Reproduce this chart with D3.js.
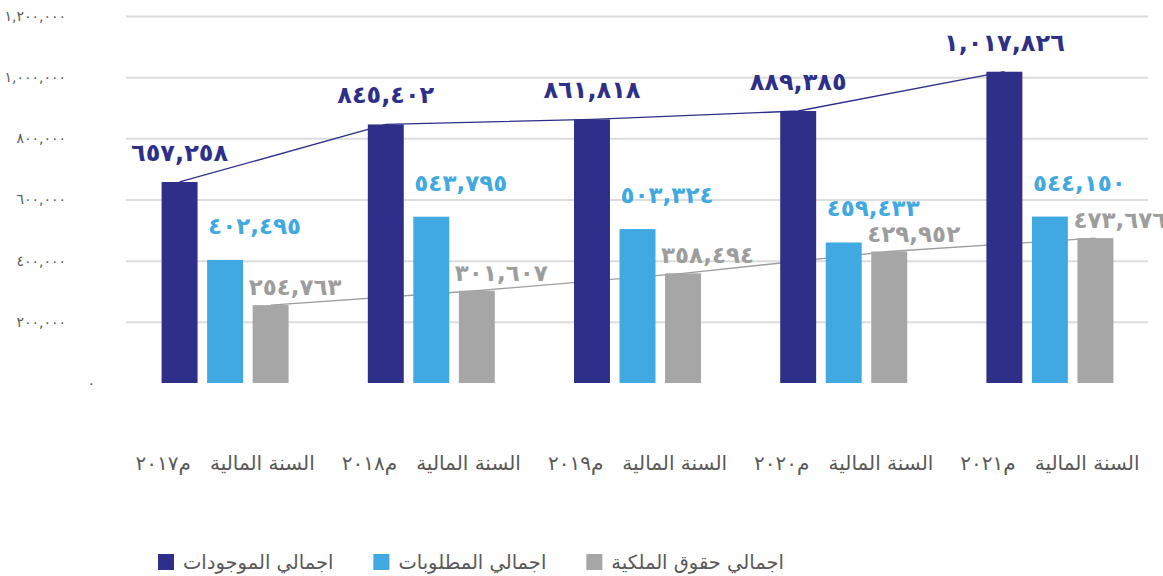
<!DOCTYPE html>
<html>
<head>
<meta charset="utf-8">
<script src="https://cdn.jsdelivr.net/npm/d3@7"></script>
<style>
  body { margin: 0; background: #fff; }
  svg text { font-family: "DejaVu Sans", "Noto Sans", sans-serif; }
</style>
</head>
<body>
<div id="chart"></div>
<script>
// data
let years = ["٢٠١٧", "٢٠١٨", "٢٠١٩", "٢٠٢٠", "٢٠٢١"];
let seriesNames = ["اجمالي الموجودات", "اجمالي المطلوبات", "اجمالي حقوق الملكية"];
let assets = [657258, 845402, 861818, 889385, 1017826];
let liabilities = [402495, 543795, 503324, 459433, 544150];
let equity = [254763, 301607, 358494, 429952, 473676];
let yTicks = [0, 200000, 400000, 600000, 800000, 1000000, 1200000];

let colors = ["#2e2f88", "#41a9e1", "#a6a6a6"];
let labelColors = ["#2e2f88", "#41a9e1", "#9d9d9d"];

let categories = years.map(function (y) {
  return "السنة المالية   م" + y;
});
let series = [assets, liabilities, equity];

let arabicDigits = "٠١٢٣٤٥٦٧٨٩";
function toArabic(n) {
  return d3.format(",")(n).replace(/[0-9]/g, function (c) {
    return arabicDigits[+c];
  });
}

let width = 1163;
let height = 576;

let svg = d3.select("#chart")
  .append("svg")
  .attr("width", width)
  .attr("height", height);

let x0 = d3.scaleBand().domain(categories).range([122, 1153]);
let mid = x0.bandwidth() / 2;
let x1 = d3.scaleBand()
  .domain([0, 1, 2])
  .range([mid - 63.5, mid + 63.5])
  .paddingInner(0.21);
let y = d3.scaleLinear().domain([0, 1200000]).range([383, 16]);

// grid lines
let grid = svg.append("g")
  .attr("transform", "translate(126,0)")
  .call(d3.axisLeft(y)
    .tickValues(yTicks.filter(function (d) { return d > 0; }))
    .tickSize(-(1148 - 126))
    .tickFormat(""));
grid.select(".domain").remove();
grid.selectAll("line").attr("stroke", "#dcdcdc").attr("stroke-width", 2);

// y axis labels
let yAxis = svg.append("g")
  .attr("transform", "translate(66,0)")
  .call(d3.axisLeft(y).tickValues(yTicks).tickSize(0).tickPadding(0).tickFormat(toArabic));
yAxis.select(".domain").remove();
yAxis.selectAll("text")
  .attr("font-size", 14)
  .attr("fill", "#595959")
  .filter(function (d) { return d === 0; })
  .attr("x", 29);

// x axis labels
let xAxis = svg.append("g")
  .attr("transform", "translate(0,456)")
  .call(d3.axisBottom(x0).tickSize(0).tickPadding(0));
xAxis.select(".domain").remove();
xAxis.selectAll("text")
  .attr("xml:space", "preserve")
  .style("white-space", "pre")
  .attr("font-size", 20)
  .attr("fill", "#595959");

// lines behind the bars
let lineColors = { 0: "#2e2f88", 2: "#9d9d9d" };
[0, 2].forEach(function (s) {
  let line = d3.line()
    .x(function (d, i) { return x0(categories[i]) + x1(s) + x1.bandwidth() / 2; })
    .y(function (d) { return y(d); });
  svg.append("path")
    .datum(series[s])
    .attr("d", line)
    .attr("fill", "none")
    .attr("stroke", lineColors[s])
    .attr("stroke-width", 1.3);
});

// bars
let groups = svg.selectAll(".grp")
  .data(categories)
  .enter()
  .append("g")
  .attr("transform", function (d) { return "translate(" + x0(d) + ",0)"; });

groups.each(function (c, i) {
  let g = d3.select(this);
  series.forEach(function (vals, s) {
    g.append("rect")
      .attr("x", x1(s))
      .attr("y", y(vals[i]))
      .attr("width", x1.bandwidth())
      .attr("height", y(0) - y(vals[i]))
      .attr("fill", colors[s]);
  });
});

// value labels
groups.each(function (c, i) {
  let g = d3.select(this);
  // assets: centred above the bar
  g.append("text")
    .attr("x", x1(0) + x1.bandwidth() / 2)
    .attr("y", y(assets[i]) - 21)
    .attr("text-anchor", "middle")
    .attr("font-size", 24)
    .attr("font-weight", "bold")
    .attr("fill", labelColors[0])
    .text(toArabic(assets[i]));
  // liabilities: starts at bar left
  g.append("text")
    .attr("x", x1(1) + 1)
    .attr("y", y(liabilities[i]) - 26)
    .attr("font-size", 23)
    .attr("font-weight", "bold")
    .attr("fill", labelColors[1])
    .text(toArabic(liabilities[i]));
  // equity
  g.append("text")
    .attr("x", x1(2) - 4)
    .attr("y", y(equity[i]) - 10)
    .attr("font-size", 23)
    .attr("font-weight", "bold")
    .attr("fill", labelColors[2])
    .text(toArabic(equity[i]));
});

// legend
let legend = svg.append("g").attr("transform", "translate(158,562)");
let lx = 0;
seriesNames.forEach(function (name, s) {
  legend.append("rect")
    .attr("x", lx)
    .attr("y", -8)
    .attr("width", 16)
    .attr("height", 16)
    .attr("fill", colors[s]);
  let t = legend.append("text")
    .attr("x", lx + 25)
    .attr("dy", "0.35em")
    .attr("font-size", 19.5)
    .attr("fill", "#595959")
    .text(name);
  lx += 25 + t.node().getComputedTextLength() + 40;
});
</script>
</body>
</html>
